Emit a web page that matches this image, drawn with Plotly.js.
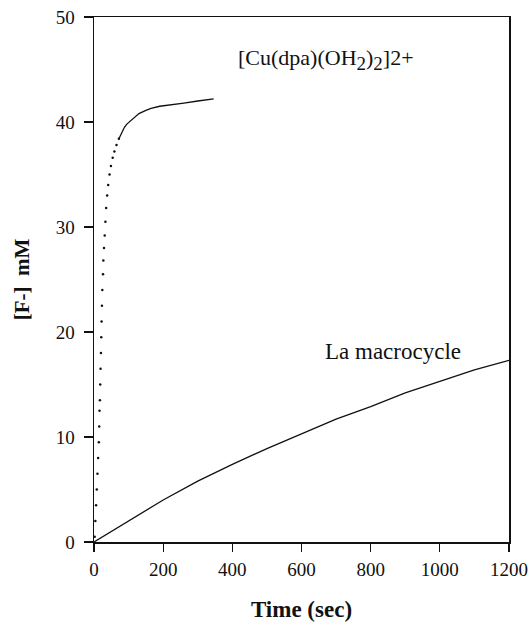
<!DOCTYPE html>
<html>
<head>
<meta charset="utf-8">
<script src="https://cdn.plot.ly/plotly-3.0.1.min.js"></script>
<style>html,body{margin:0;padding:0;background:#fff;}#chart{width:529px;height:622px;}</style>
</head>
<body>
<div id="chart"></div>
<script>
// Cu(dpa) complex: early dotted portion (sparse samples)
const cuDotTime = [2,4,6,8,10,12,14,15,16,17,18,19,20,21,22,23,24,26,27,29,31,33,35,38,41,45,49,54,59,65,72];
const cuDotF    = [0.5,2,3.5,5,6.5,8,9.5,11,12.5,13.5,15,16.5,18,19.5,21,22.5,24,25.5,26.8,28,29.2,30.5,31.8,33,34,35,35.8,36.6,37.2,37.8,38.4];
// Cu(dpa) complex: continuous portion
const cuLineTime = [72,80,88,95,105,115,130,150,165,190,220,260,300,346];
const cuLineF    = [38.4,39,39.5,39.8,40.1,40.4,40.8,41.1,41.3,41.5,41.6,41.8,42.0,42.2];
// La macrocycle
const laTime = [0,50,100,200,300,400,500,600,700,800,900,1000,1100,1200];
const laF    = [0,1.0,2.0,4.0,5.8,7.4,8.9,10.3,11.7,12.9,14.2,15.3,16.4,17.3];

const xTicks = [0,200,400,600,800,1000,1200];
const yTicks = [0,10,20,30,40,50];
const cuLabel = "[Cu(dpa)(OH<sub><span style=\"font-size:19px\">2</span></sub>)<sub><span style=\"font-size:19px\">2</span></sub>]2+";
const laLabel = "La macrocycle";

const ink = "#111";
const serif = "Liberation Serif, Times New Roman, serif";

const traces = [
  {x: cuDotTime, y: cuDotF, mode: "markers", type: "scatter",
   marker: {size: 2.5, color: ink}, hoverinfo: "skip", showlegend: false},
  {x: cuLineTime, y: cuLineF, mode: "lines", type: "scatter",
   line: {color: ink, width: 1.3}, showlegend: false},
  {x: laTime, y: laF, mode: "lines", type: "scatter",
   line: {color: ink, width: 1.3}, showlegend: false}
];

const layout = {
  width: 529, height: 622,
  margin: {l: 94, r: 20, t: 17, b: 80},
  paper_bgcolor: "#fff", plot_bgcolor: "#fff",
  showlegend: false,
  font: {family: serif, color: ink, size: 19},
  xaxis: {
    range: [0, 1200], tickvals: xTicks, ticktext: xTicks.map(String),
    showgrid: false, zeroline: false,
    showline: true, mirror: true, linecolor: ink, linewidth: 1.5,
    ticks: "outside", ticklen: 8, tickwidth: 1.3, tickcolor: ink,
    ticklabelstandoff: 2,
    tickfont: {family: serif, size: 19, color: ink},
    title: {text: "<b>Time (sec)</b>", font: {family: serif, size: 23, color: ink}, standoff: 24}
  },
  yaxis: {
    range: [0, 50], tickvals: yTicks, ticktext: yTicks.map(String),
    showgrid: false, zeroline: false,
    showline: true, mirror: true, linecolor: ink, linewidth: 1.5,
    ticks: "outside", ticklen: 9, tickwidth: 1.3, tickcolor: ink,
    ticklabelstandoff: 5,
    tickfont: {family: serif, size: 19, color: ink},
    title: {text: "<b>[F-]  mM</b>", font: {family: serif, size: 21, color: ink}, standoff: 20}
  },
  annotations: [
    {x: 412, y: 46.0, xref: "x", yref: "y", text: cuLabel, showarrow: false,
     xanchor: "left", yanchor: "middle", font: {family: serif, size: 22, color: ink}},
    {x: 661, y: 18.1, xref: "x", yref: "y", text: laLabel, showarrow: false,
     xanchor: "left", yanchor: "middle", font: {family: serif, size: 23, color: ink}}
  ]
};

Plotly.newPlot("chart", traces, layout, {displayModeBar: false, staticPlot: true});
</script>
</body>
</html>
